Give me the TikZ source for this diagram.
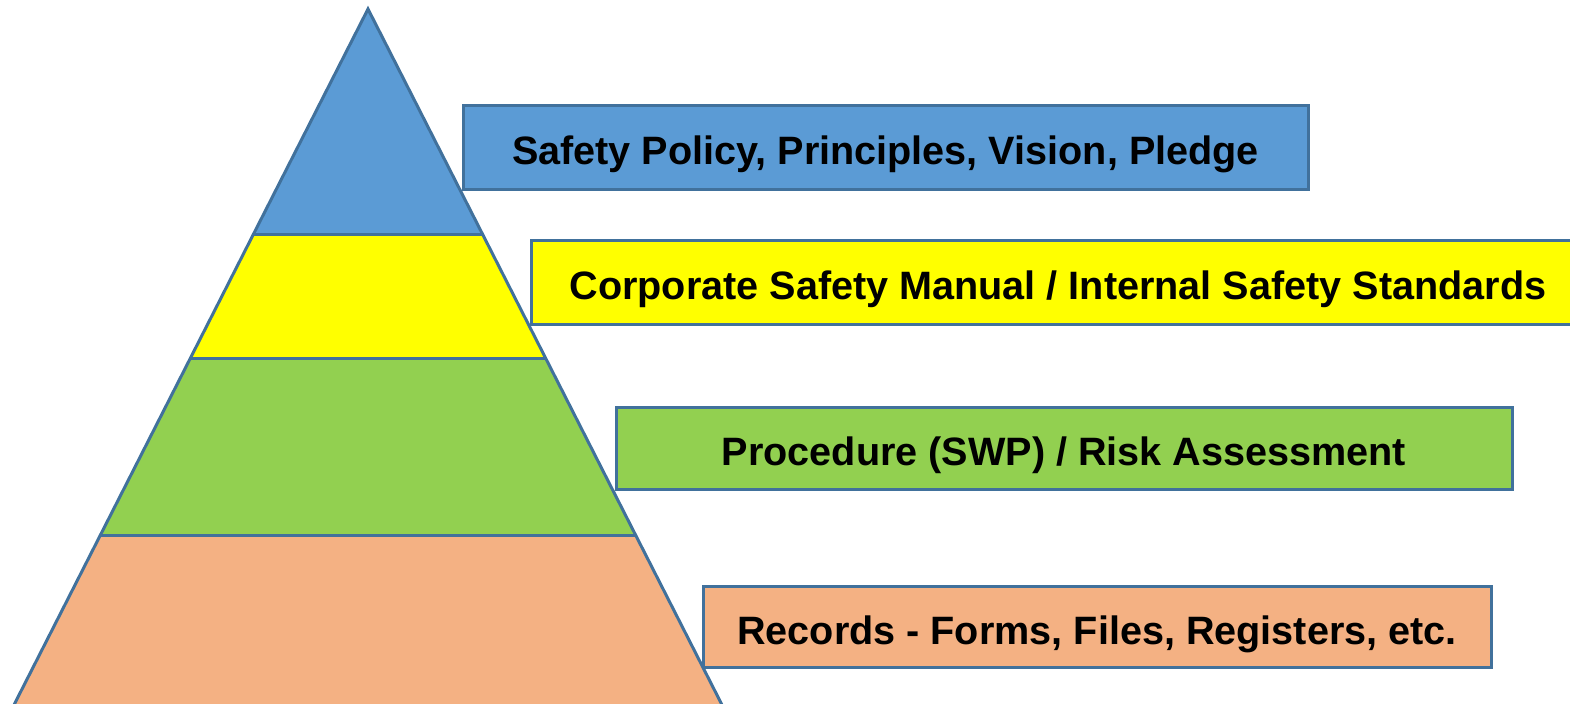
\documentclass[tikz,border=0pt]{standalone}
\usepackage{fontspec}
\setmainfont{Liberation Sans}
\definecolor{edgeblue}{HTML}{41719C}
\definecolor{policyblue}{HTML}{5B9BD5}
\definecolor{manualyellow}{HTML}{FFFF00}
\definecolor{procgreen}{HTML}{92D050}
\definecolor{recordorange}{HTML}{F4B183}
\tikzset{
    layerbox/.style={draw=edgeblue, line width=1.5pt, inner sep=0pt,
        minimum height=42pt, text height=17.6pt, text depth=0pt,
        font=\bfseries\fontsize{19.8}{22}\selectfont}
}
\begin{document}
\begin{tikzpicture}[x=0.5pt, y=-0.5pt]
    % Page frame
    \useasboundingbox (0,0) rectangle (1570,703);
    \clip (0,0) rectangle (1570,703);

    % Pyramid corners
    \coordinate (apex) at (368,9);
    \coordinate (baseL) at (6.3,720);
    \coordinate (baseR) at (729.7,720);

    % Colour bands inside the pyramid
    \begin{scope}
        \clip (apex) -- (baseL) -- (baseR) -- cycle;
        \fill[policyblue] (0,0) rectangle (800,234);
        \fill[manualyellow] (0,234) rectangle (800,358);
        \fill[procgreen] (0,358) rectangle (800,535);
        \fill[recordorange] (0,535) rectangle (800,720);
        \foreach \y in {234,358,535}
            \draw[edgeblue, line width=1.5pt] (0,\y) -- (800,\y);
    \end{scope}
    \draw[edgeblue, line width=1.5pt, line join=miter] (apex) -- (baseL) -- (baseR) -- cycle;

    % Label boxes
    \node[layerbox, fill=policyblue, minimum width=422.5pt] (policy) at (885.5,147)
        {Safety Policy, Principles, Vision, Pledge};
    \node[layerbox, fill=manualyellow, minimum width=527pt] (manual) at (1058,282)
        {Corporate Safety Manual / Internal Safety Standards};
    \node[layerbox, fill=procgreen, minimum width=448pt, minimum height=41pt] (procedure) at (1064,448)
        {Procedure (SWP) / Risk Assessment};
    \node[layerbox, fill=recordorange, minimum width=394pt, minimum height=40.5pt] (records) at (1097,626.5)
        {Records - Forms, Files, Registers, etc.};
\end{tikzpicture}
\end{document}
